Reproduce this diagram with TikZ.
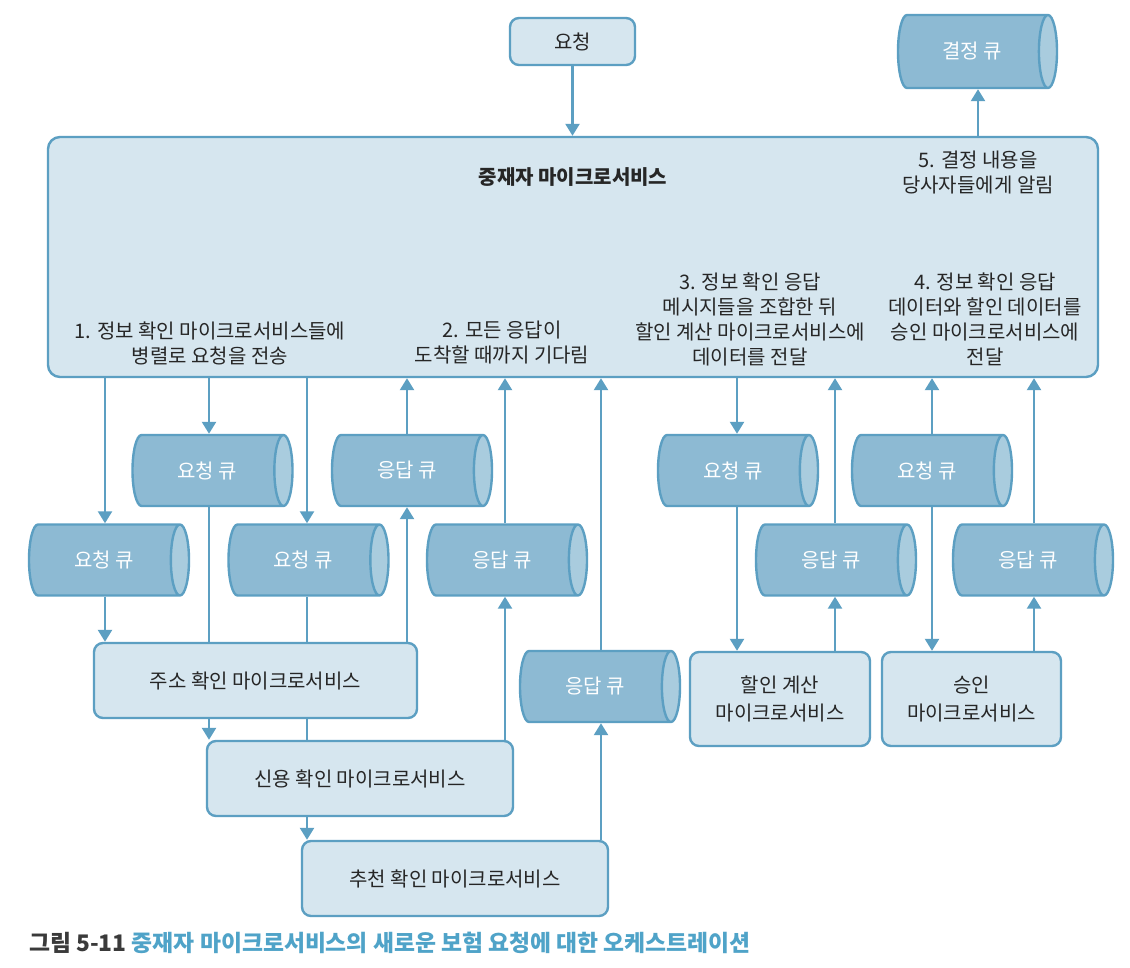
\documentclass[tikz,border=0pt]{standalone}
\usepackage{fontspec}
\setmainfont{Noto Sans CJK KR}
\usetikzlibrary{shapes.geometric,arrows.meta,backgrounds}

\definecolor{boxfill}{HTML}{D6E6EF}
\definecolor{edgeblue}{HTML}{5C9FC2}
\definecolor{cylbody}{HTML}{8DBAD3}
\definecolor{cylcap}{HTML}{A9CCDE}
\definecolor{capblue}{HTML}{4FA3C8}
\definecolor{capdark}{HTML}{3A3A3A}
\definecolor{ink}{HTML}{262626}

\begin{document}
\begin{tikzpicture}[x=1pt,y=-1pt,
  box/.style={draw=edgeblue, line width=2.4pt, fill=boxfill, rounded corners=9pt,
    align=center, inner sep=0pt, font=\fontsize{20}{28}\selectfont, text=ink},
  queue/.style={cylinder, shape border rotate=0, aspect=1.0, draw=edgeblue,
    line width=2.4pt, cylinder uses custom fill, cylinder body fill=cylbody,
    cylinder end fill=cylcap, minimum height=160pt, minimum width=71pt,
    inner sep=0pt, text=white, font=\fontsize{20}{24}\selectfont, anchor=shape center},
  note/.style={align=center, font=\fontsize{20}{25}\selectfont, text=ink, inner sep=0pt},
  arr/.style={draw=edgeblue, line width=2.4pt, -{Triangle[width=14pt,length=12pt]}},
]
\useasboundingbox (0,0) rectangle (1130,968);
\begin{pgfonlayer}{background}
  \fill[white] (0,0) rectangle (1130,968);
\end{pgfonlayer}

% top: incoming request and the decision queue
\node[box, minimum width=125pt, minimum height=47pt] (req) at (572.5,41.5) {요청};
\node[queue, minimum height=159pt, minimum width=73pt] (dec) at (977.5,51.5) {결정 큐};

% mediator
\node[box, minimum width=1050pt, minimum height=240pt, rounded corners=12pt] (med) at (573,257) {};
\node[note, font=\bfseries\fontsize{20}{25}\selectfont] (title) at (573,177) {중재자 마이크로서비스};
\node[note] (s5) at (978,172.5) {5. 결정 내용을\\당사자들에게 알림};
\node[note] (s1) at (210,343) {1. 정보 확인 마이크로서비스들에\\병렬로 요청을 전송};
\node[note] (s2) at (502,343) {2. 모든 응답이\\도착할 때까지 기다림};
\node[note] (s3) at (750,319.5) {3. 정보 확인 응답\\메시지들을 조합한 뒤\\할인 계산 마이크로서비스에\\데이터를 전달};
\node[note] (s4) at (985,319.5) {4. 정보 확인 응답\\데이터와 할인 데이터를\\승인 마이크로서비스에\\전달};

% queues
\node[queue] (qa) at (212.5,470.5) {요청 큐};
\node[queue] (qb) at (412,470.5) {응답 큐};
\node[queue] (qc) at (109,560) {요청 큐};
\node[queue] (qd) at (308.5,560) {요청 큐};
\node[queue] (qe) at (507,560) {응답 큐};
\node[queue] (qf) at (600,686.5) {응답 큐};
\node[queue] (qg) at (738,470.5) {요청 큐};
\node[queue] (qh) at (836,560) {응답 큐};
\node[queue] (qi) at (932,470.5) {요청 큐};
\node[queue] (qj) at (1033,560) {응답 큐};

% microservices
\node[box, minimum width=323pt, minimum height=75pt] (addr) at (255.5,680.5) {주소 확인 마이크로서비스};
\node[box, minimum width=306pt, minimum height=75pt] (credit) at (360,778.5) {신용 확인 마이크로서비스};
\node[box, minimum width=306pt, minimum height=75pt] (recom) at (455,878.5) {추천 확인 마이크로서비스};
\node[box, minimum width=180pt, minimum height=94pt] (disc) at (780,699) {할인 계산\\마이크로서비스};
\node[box, minimum width=179pt, minimum height=94pt] (appr) at (971.5,699) {승인\\마이크로서비스};

% caption
\node[anchor=west, inner sep=0pt, font=\bfseries\fontsize{22.8}{26}\selectfont] (cap) at (29,943)
  {\textcolor{capdark}{그림 5-11} \textcolor{capblue}{중재자 마이크로서비스의 새로운 보험 요청에 대한 오케스트레이션}};

% vertical lanes of the connectors
\coordinate (xC) at (105,0);
\coordinate (xA) at (209,0);
\coordinate (xD) at (307,0);
\coordinate (xB) at (407,0);
\coordinate (xE) at (505,0);
\coordinate (xF) at (601,0);
\coordinate (xG) at (737,0);
\coordinate (xH) at (835,0);
\coordinate (xI) at (932,0);
\coordinate (xJ) at (1034,0);
\coordinate (xDec) at (978,0);

\begin{pgfonlayer}{background}
  \draw[arr] (req.south) -- (req.south |- med.north);
  \draw[arr] (med.north -| xDec) -- (dec.south -| xDec);
  % requests fanned out to the checks
  \draw[arr] (med.south -| xC) -- (qc.north -| xC);
  \draw[arr] (qc.south -| xC) -- (addr.north -| xC);
  \draw[arr] (med.south -| xA) -- (qa.north -| xA);
  \draw[arr] (qa.south -| xA) -- (credit.north -| xA);
  \draw[arr] (med.south -| xD) -- (qd.north -| xD);
  \draw[arr] (qd.south -| xD) -- (recom.north -| xD);
  % responses back to the mediator
  \draw[arr] (addr.north -| xB) -- (qb.south -| xB);
  \draw[arr] (qb.north -| xB) -- (med.south -| xB);
  \draw[arr] (credit.north -| xE) -- (qe.south -| xE);
  \draw[arr] (qe.north -| xE) -- (med.south -| xE);
  \draw[arr] (recom.north -| xF) -- (qf.south -| xF);
  \draw[arr] (qf.north -| xF) -- (med.south -| xF);
  % discount calculation
  \draw[arr] (med.south -| xG) -- (qg.north -| xG);
  \draw[arr] (qg.south -| xG) -- (disc.north -| xG);
  \draw[arr] (disc.north -| xH) -- (qh.south -| xH);
  \draw[arr] (qh.north -| xH) -- (med.south -| xH);
  % approval
  \draw[arr] (qi.north -| xI) -- (med.south -| xI);
  \draw[arr] (qi.south -| xI) -- (appr.north -| xI);
  \draw[arr] (appr.north -| xJ) -- (qj.south -| xJ);
  \draw[arr] (qj.north -| xJ) -- (med.south -| xJ);
\end{pgfonlayer}
\end{tikzpicture}
\end{document}
